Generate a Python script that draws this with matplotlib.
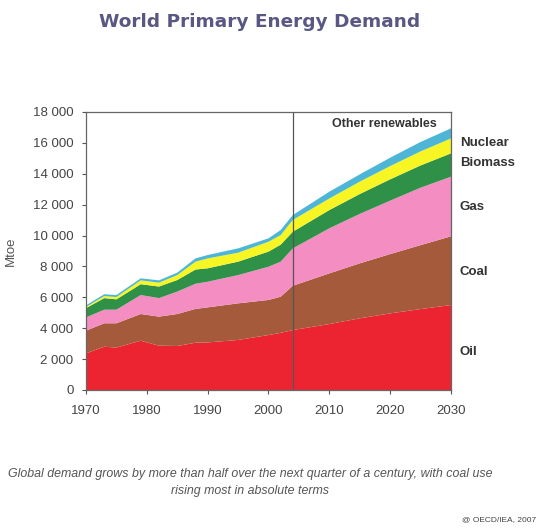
import matplotlib
matplotlib.use("Agg")
import matplotlib.pyplot as plt
from matplotlib.ticker import FuncFormatter

years = [1970, 1973, 1975, 1979, 1982, 1985, 1988, 1990, 1995, 2000, 2002, 2004,
         2010, 2015, 2020, 2025, 2030]
oil = [2370, 2800, 2750, 3190, 2870, 2850, 3060, 3080, 3240, 3560, 3700, 3880,
       4270, 4640, 4960, 5240, 5500]
coal = [1470, 1520, 1570, 1730, 1880, 2070, 2190, 2270, 2370, 2270, 2340, 2870,
        3280, 3560, 3840, 4140, 4450]
gas = [860, 880, 880, 1230, 1200, 1450, 1630, 1660, 1830, 2150, 2270, 2420,
       2920, 3200, 3460, 3720, 3860]
biomass = [600, 750, 670, 700, 750, 750, 920, 870, 870, 980, 1100, 1080,
           1180, 1290, 1380, 1440, 1510]
nuclear = [80, 130, 150, 250, 250, 320, 510, 640, 580, 640, 620, 760,
           750, 800, 860, 910, 970]
other_renewables = [100, 120, 130, 130, 150, 160, 210, 220, 280, 220, 330, 320,
                    440, 470, 540, 610, 650]

series_labels = ["Oil", "Coal", "Gas", "Biomass", "Nuclear", "Other renewables"]
colors = ["#ec2431", "#a55a3b", "#f48dc2", "#2f9048", "#f7f523", "#4db6d6"]
x_ticks = [1970, 1980, 1990, 2000, 2010, 2020, 2030]
y_ticks = list(range(0, 18001, 2000))
split_year = 2004

sans = ["Liberation Sans", "DejaVu Sans"]

fig = plt.figure(figsize=(5.41, 5.29), dpi=100)
ax = fig.add_axes([86 / 541, 1 - 390 / 529, 365 / 541, 278 / 529])

ax.stackplot(years, oil, coal, gas, biomass, nuclear, other_renewables,
             colors=colors, linewidth=0)
ax.axvline(split_year, color="#555555", lw=0.9)

ax.set_xlim(1970, 2030)
ax.set_ylim(0, 18000)
ax.set_xticks(x_ticks)
ax.set_yticks(y_ticks)
ax.yaxis.set_major_formatter(FuncFormatter(lambda v, p: f"{int(v):,}".replace(",", " ")))
for sp in ax.spines.values():
    sp.set_color("#666666")
    sp.set_linewidth(0.9)
ax.tick_params(colors="#555555", labelcolor="#444444", length=3, width=0.8)
ax.tick_params(axis="y", pad=6)
ax.tick_params(axis="x", pad=8)
for lab in ax.get_xticklabels() + ax.get_yticklabels():
    lab.set_family(sans)
    lab.set_fontsize(9.5)

ax.set_ylabel("Mtoe", fontsize=9.5, color="#555555", family=sans)
ax.yaxis.set_label_coords(-0.19, 0.50)

lab_kw = dict(transform=fig.transFigure, family=sans, fontweight="bold",
              fontsize=9.5, color="#333333", va="center", ha="left")
fig.text(460 / 541, 1 - 143 / 529, "Nuclear", **lab_kw)
fig.text(460 / 541, 1 - 163 / 529, "Biomass", **lab_kw)
fig.text(460 / 541, 1 - 207 / 529, "Gas", **lab_kw)
fig.text(460 / 541, 1 - 272 / 529, "Coal", **lab_kw)
fig.text(460 / 541, 1 - 352 / 529, "Oil", **lab_kw)
fig.text(384 / 541, 1 - 124 / 529, "Other renewables", transform=fig.transFigure,
         family=sans, fontweight="bold", fontsize=9, color="#333333",
         va="center", ha="center")

fig.text(260 / 541, 1 - 22 / 529, "World Primary Energy Demand", ha="center", va="center",
         fontsize=13.3, fontweight="bold", color="#595882", family=["DejaVu Sans"])

cap_kw = dict(ha="center", va="center", fontsize=8.9, style="italic", color="#555555",
              family=sans)
fig.text(250 / 541, 1 - 474 / 529,
         "Global demand grows by more than half over the next quarter of a century, with coal use",
         **cap_kw)
fig.text(250 / 541, 1 - 491 / 529, "rising most in absolute terms", **cap_kw)
fig.text(536 / 541, 1 - 520 / 529, "@ OECD/IEA, 2007", ha="right", va="center",
         fontsize=6, color="#444444", family=sans)

fig.savefig("out.png", dpi=100, facecolor="white")
